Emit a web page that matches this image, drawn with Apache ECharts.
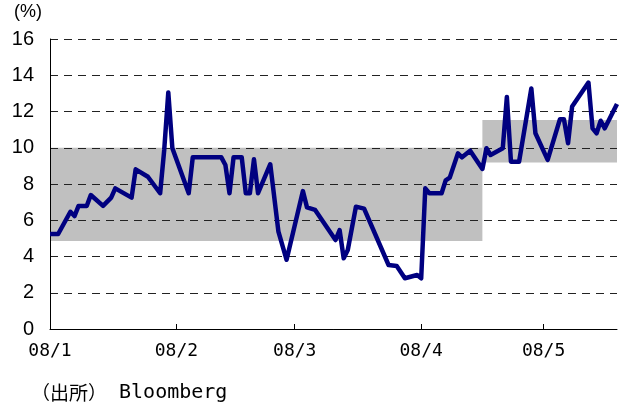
<!DOCTYPE html>
<html lang="ja">
<head>
<meta charset="utf-8">
<title>08/1-08/5</title>
<script src="https://cdn.jsdelivr.net/npm/echarts@6/dist/echarts.min.js"></script>
<style type="text/css">
    html, body { margin: 0; padding: 0; background: #fff; }
    #main { width: 622px; height: 408px; }
</style>
</head>
<body>
<div id="main"></div>
<script type="text/javascript">
    // 日付 (2008年, 月/日) と値 (%)
    var dates = ['1/1','1/3','1/6','1/7','1/8','1/10','1/11','1/14','1/16','1/17',
        '1/21','1/22','1/25','1/28','1/29','1/30','1/31','2/4','2/5','2/12',
        '2/13','2/14','2/15','2/17','2/18','2/19','2/20','2/21','2/24','2/26',
        '2/28','3/3','3/4','3/6','3/11','3/12','3/13','3/14','3/16','3/18',
        '3/24','3/26','3/28','3/31','4/1','4/2','4/3','4/6','4/7','4/8',
        '4/10','4/11','4/13','4/16','4/17','4/18','4/21','4/22','4/23','4/25',
        '4/28','4/29','5/2','5/5','5/6','5/7','5/8','5/12','5/13','5/14',
        '5/15','5/16','5/19'];
    var values = [5.24,5.24,6.47,6.23,6.79,6.79,7.39,6.79,7.25,7.76,
        7.25,8.81,8.40,7.49,9.88,13.05,9.97,7.49,9.47,9.47,
        9.05,7.49,9.47,9.47,7.49,7.49,9.36,7.49,9.09,5.37,
        3.82,7.61,6.71,6.57,4.91,5.46,3.90,4.36,6.75,6.64,
        3.53,3.48,2.80,2.98,2.80,7.76,7.49,7.49,8.20,8.35,
        9.69,9.47,9.84,8.83,9.97,9.60,9.97,12.80,9.23,9.23,
        13.27,10.80,9.33,11.57,11.57,10.25,12.27,13.60,11.07,10.80,
        11.49,11.07,12.41];

    // 月ラベル
    var monthLabels = ['08/1','08/2','08/3','08/4','08/5'];
    var monthStarts = ['1/1','2/1','3/1','4/1','5/1'];
    var axisEnd = '5/20';

    // 網掛け範囲 [開始日, 終了日, 下限, 上限]
    var band1 = ['12/31', '4/16', 4.86, 10.0];
    var band2 = ['4/16', '5/21', 9.18, 11.53];

    // 1月1日からの日数
    function dayNo(s) {
        var p = s.split('/');
        var y = p[0] === '12' ? 2007 : 2008;
        var t = Date.UTC(y, +p[0] - 1, +p[1]) - Date.UTC(2008, 0, 1);
        return Math.round(t / 86400000);
    }

    var lineData = dates.map(function (d, i) { return [dayNo(d), values[i]]; });
    var tickDays = monthStarts.map(dayNo);
    var labelOf = {};
    tickDays.forEach(function (d, i) { labelOf[d] = monthLabels[i]; });

    function band(b) {
        return [{ xAxis: dayNo(b[0]), yAxis: b[2] }, { xAxis: dayNo(b[1]), yAxis: b[3] }];
    }

    var myChart = echarts.init(document.getElementById('main'));

    var option = {
        animation: false,
        backgroundColor: '#ffffff',
        grid: { left: 50, right: 5, top: 39, bottom: 79, containLabel: false, outerBoundsMode: 'none' },
        xAxis: {
            type: 'value',
            min: 0,
            max: dayNo(axisEnd) - 1,
            z: 3,
            axisLine: { show: true, lineStyle: { color: '#000', width: 1 } },
            axisTick: { show: true, inside: true, length: 5, customValues: tickDays, lineStyle: { color: '#000' } },
            axisLabel: {
                customValues: tickDays,
                margin: 13,
                color: '#000',
                fontFamily: 'DejaVu Sans Mono',
                fontSize: 18,
                formatter: function (v) { return labelOf[v] || ''; }
            },
            splitLine: { show: false }
        },
        yAxis: {
            type: 'value',
            min: 0,
            max: 16,
            interval: 2,
            z: 3,
            axisLine: { show: true, lineStyle: { color: '#000', width: 1 } },
            axisTick: { show: false },
            axisLabel: { margin: 16, color: '#000', fontFamily: 'Liberation Sans', fontSize: 20 },
            splitLine: { show: true, lineStyle: { color: '#222', type: [8, 6], width: 1 } }
        },
        graphic: [
            {
                type: 'text', left: 14, top: 3,
                style: { text: '(%)', fill: '#000', font: '18px "Liberation Sans"' }
            },
            {
                type: 'text', left: 31, top: 383,
                style: {
                    text: '{a|（出所）}{b| Bloomberg}',
                    rich: {
                        a: { fontFamily: 'Noto Sans CJK JP', fontSize: 19, fill: '#000' },
                        b: { fontFamily: 'DejaVu Sans Mono', fontSize: 20, fill: '#000' }
                    }
                }
            }
        ],
        series: [
            {
                type: 'line',
                z: 1,
                silent: true,
                clip: false,
                showSymbol: false,
                data: lineData,
                lineStyle: { width: 0, opacity: 0 },
                markArea: {
                    z: 1,
                    silent: true,
                    itemStyle: { color: '#c0c0c0', opacity: 1 },
                    data: [band(band1), band(band2)]
                }
            },
            {
                type: 'line',
                z: 5,
                showSymbol: false,
                data: lineData,
                lineStyle: { color: '#000080', width: 4.5, join: 'round' }
            }
        ]
    };

    myChart.setOption(option);
</script>
</body>
</html>
